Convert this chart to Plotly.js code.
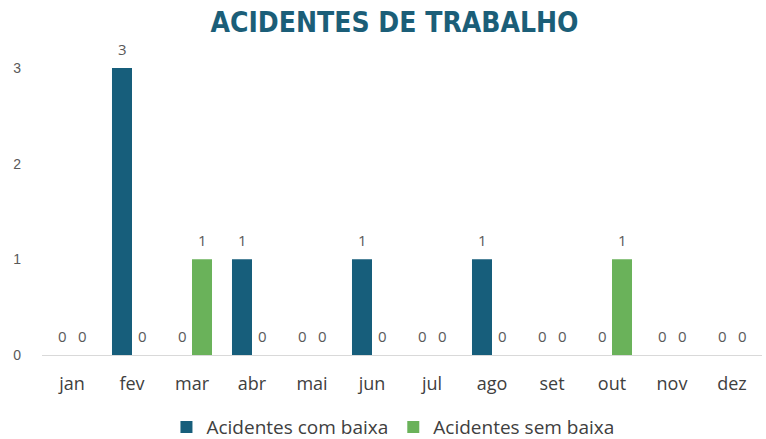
<!DOCTYPE html>
<html><head><meta charset="utf-8">
<script src="https://cdn.plot.ly/plotly-3.0.1.min.js"></script>
<style>html,body{margin:0;padding:0;background:#fff;}#c{width:766px;height:439px;}</style>
</head><body><div id="c"></div>
<script>
const months = ['jan','fev','mar','abr','mai','jun','jul','ago','set','out','nov','dez'];
const comBaixa = [0,3,0,1,0,1,0,1,0,0,0,0];
const semBaixa = [0,0,1,0,0,0,0,0,0,1,0,0];
const seriesNames = ['Acidentes com baixa','Acidentes sem baixa'];
const yTicks = [0,1,2,3];

const labelFont = {family:'Open Sans, sans-serif', size:15, color:'#595959'};
const traces = [
  {type:'bar', x:months, y:comBaixa, name:seriesNames[0], marker:{color:'#175e7b'}},
  {type:'bar', x:months, y:semBaixa, name:seriesNames[1], marker:{color:'#6ab25a'}}
];
// data labels placed via the axis scales (bar group offset = +-1/6 of a category)
const annotations = [];
[comBaixa, semBaixa].forEach((vals, s) => {
  vals.forEach((v, i) => {
    annotations.push({x: i + (s === 0 ? -1 : 1) / 6, y: v, xref:'x', yref:'y', text:String(v),
      showarrow:false, yshift:19, yanchor:'middle', font:labelFont});
  });
});
const layout = {
  width:766, height:439,
  margin:{l:42, r:4, t:68, b:84},
  paper_bgcolor:'#fff', plot_bgcolor:'#fff',
  title:{text:'<b>ACIDENTES DE TRABALHO</b>', x:0.515, xanchor:'center', y:0.95, yanchor:'middle',
    font:{family:'DejaVu Sans Condensed, sans-serif', size:28, color:'#1b5e78'}},
  barmode:'group', bargap:0.333, bargroupgap:0,
  xaxis:{showline:true, linecolor:'#d9d9d9', linewidth:1, ticks:'', showgrid:false, ticklabelstandoff:12,
    tickfont:{family:'Open Sans, sans-serif', size:18, color:'#404040'}},
  yaxis:{range:[0,3], tickvals:yTicks, showgrid:false, zeroline:false, showline:false,
    tickfont:{family:'Liberation Sans, Arial, sans-serif', size:14, color:'#595959'}, ticklabelstandoff:20},
  annotations: annotations,
  showlegend:true,
  legend:{orientation:'h', x:0.513, xanchor:'center', xref:'container', yref:'container', y:0.027, yanchor:'middle',
    font:{family:'Open Sans, sans-serif', size:19, color:'#404040'}, itemwidth:30, traceorder:'normal'}
};
Plotly.newPlot('c', traces, layout, {displayModeBar:false, staticPlot:true});
</script></body></html>
